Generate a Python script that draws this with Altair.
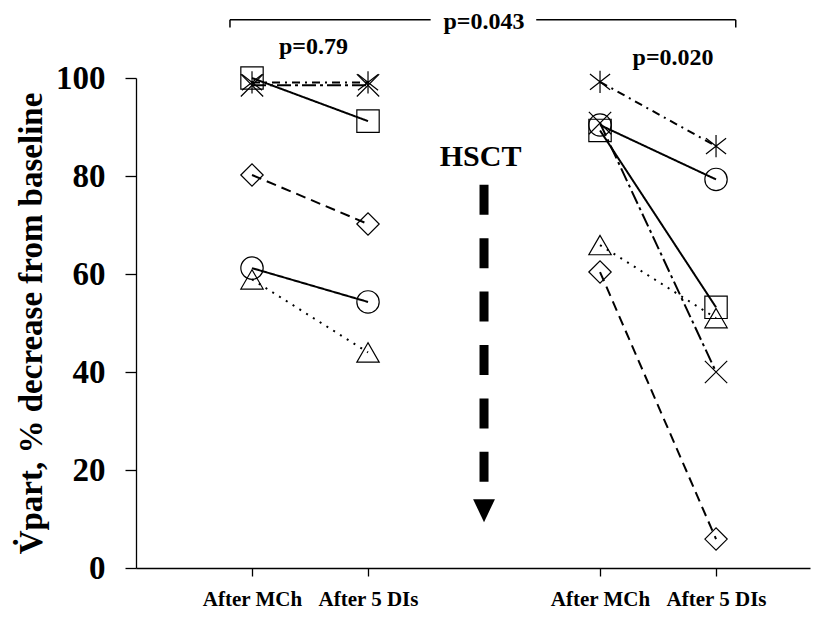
import altair as alt
import pandas as pd

# ---- data ----
positions = [1, 2, 4, 5]            # After MCh, After 5 DIs (pre), After MCh, After 5 DIs (post HSCT)
tick_labels = ["After MCh", "After 5 DIs", "After MCh", "After 5 DIs"]
series = ["square", "circle", "diamond", "triangle", "asterisk", "cross"]
square = [100, 91.2, 89.3, 53.2]
circle = [61.2, 54.3, 90.4, 79.3]
diamond = [80.2, 70.2, 60.4, 5.9]
triangle = [58.9, 44.0, 65.9, 51.0]
asterisk = [99.1, 99.1, 99.2, 86.1]
cross = [98.5, 98.5, 90.8, 40.0]
values = [square, circle, diamond, triangle, asterisk, cross]

p_texts = ["p=0.043", "p=0.79", "p=0.020"]
p_x = [3.0, 1.53, 4.63]
p_y = [111.4, 106.3, 104.1]

FONT = "Liberation Serif"

rows = []
for s, vals in zip(series, values):
    for i, (xp, v) in enumerate(zip(positions, vals)):
        rows.append({"series": s, "seg": s + ("_a" if i < 2 else "_b"), "x": xp, "y": v})
df = pd.DataFrame(rows)

ast_path = "M0,-1L0,1M-0.9,-0.7L0.9,0.7M-0.9,0.7L0.9,-0.7"
cross_path = "M-1,-1L1,1M-1,1L1,-1"
shape_range = ["square", "circle", "diamond", "triangle-up", ast_path, cross_path]
dash_range = [[1, 0], [1, 0], [10, 6], [2, 6], [8, 5, 2, 5], [14, 4, 3, 4]]

xscale = alt.Scale(domain=[0, 5.81], nice=False, zero=False)
yscale = alt.Scale(domain=[0, 100], nice=False)

label_expr = ("datum.value == 1 ? '" + tick_labels[0] + "' : datum.value == 2 ? '" + tick_labels[1] +
              "' : datum.value == 4 ? '" + tick_labels[2] + "' : '" + tick_labels[3] + "'")

xaxis = alt.Axis(values=positions, labelExpr=label_expr, title=None, grid=False,
                 tickSize=8, labelPadding=29, labelBaseline="alphabetic",
                 labelFont=FONT, labelFontWeight="bold", labelFontSize=21,
                 labelColor="black", tickColor="black", domainColor="black",
                 domainWidth=1.3, tickWidth=1.3)
yaxis = alt.Axis(values=[0, 20, 40, 60, 80, 100], title="V̇part, % decrease from baseline",
                 grid=False, tickSize=11, labelPadding=20,
                 labelFont=FONT, labelFontWeight="bold", labelFontSize=33, labelColor="black",
                 titleFont=FONT, titleFontWeight="bold", titleFontSize=33, titleColor="black",
                 titleX=-105, titleY=245, titleAngle=-90, titleAlign="center", titleBaseline="middle",
                 tickColor="black", domainColor="black", domainWidth=1.3, tickWidth=1.3)

base = alt.Chart(df)
lines = base.mark_line(color="black", strokeWidth=2).encode(
    x=alt.X("x:Q", scale=xscale, axis=xaxis),
    y=alt.Y("y:Q", scale=yscale, axis=yaxis),
    detail="seg:N",
    strokeDash=alt.StrokeDash("series:N", scale=alt.Scale(domain=series, range=dash_range), legend=None),
)
points = base.mark_point(color="black", strokeWidth=1.2, size=500, filled=False, opacity=1).encode(
    x=alt.X("x:Q", scale=xscale),
    y=alt.Y("y:Q", scale=yscale),
    shape=alt.Shape("series:N", scale=alt.Scale(domain=series, range=shape_range), legend=None),
)

# bracket for p=0.043
br = pd.DataFrame({
    "x": [0.81, 3.45, 0.81, 5.17],
    "x2": [2.54, 5.17, 0.81, 5.17],
    "y": [111.9, 111.9, 111.9, 111.9],
    "y2": [111.9, 111.9, 110.3, 110.3],
})
bracket = alt.Chart(br).mark_rule(color="black", strokeWidth=1.5).encode(
    x=alt.X("x:Q", scale=xscale), x2="x2:Q",
    y=alt.Y("y:Q", scale=yscale), y2="y2:Q",
)

ptxt = pd.DataFrame({"x": p_x, "y": p_y, "t": p_texts})
ptext = alt.Chart(ptxt).mark_text(font=FONT, fontWeight="bold", fontSize=24, color="black",
                                  baseline="middle", align="center").encode(
    x=alt.X("x:Q", scale=xscale), y=alt.Y("y:Q", scale=yscale), text="t:N")

hs = pd.DataFrame({"x": [2.97], "y": [83.9], "t": ["HSCT"]})
hsct = alt.Chart(hs).mark_text(font=FONT, fontWeight="bold", fontSize=30, color="black",
                               baseline="middle", align="center").encode(
    x=alt.X("x:Q", scale=xscale), y=alt.Y("y:Q", scale=yscale), text="t:N")

ar = pd.DataFrame({"x": [3.0], "y": [78.2], "y2": [17.6]})
arrow = alt.Chart(ar).mark_rule(color="black", strokeWidth=9, strokeDash=[30, 23.4], strokeCap="butt").encode(
    x=alt.X("x:Q", scale=xscale), y=alt.Y("y:Q", scale=yscale), y2="y2:Q")

ah = pd.DataFrame({"x": [3.0], "y": [11.7]})
head = alt.Chart(ah).mark_point(shape="M-0.95,-1L0.95,-1L0,1Z", filled=True, color="black",
                                size=529, opacity=1).encode(
    x=alt.X("x:Q", scale=xscale), y=alt.Y("y:Q", scale=yscale))

chart = alt.layer(lines, points, bracket, ptext, hsct, arrow, head).properties(
    width=674, height=490,
    autosize=alt.AutoSizeParams(type="none"),
    padding={"left": 128, "top": 70, "right": 7, "bottom": 43},
).configure_view(stroke=None)

chart.save("out.html", embed_options={"renderer": "svg", "actions": False})
